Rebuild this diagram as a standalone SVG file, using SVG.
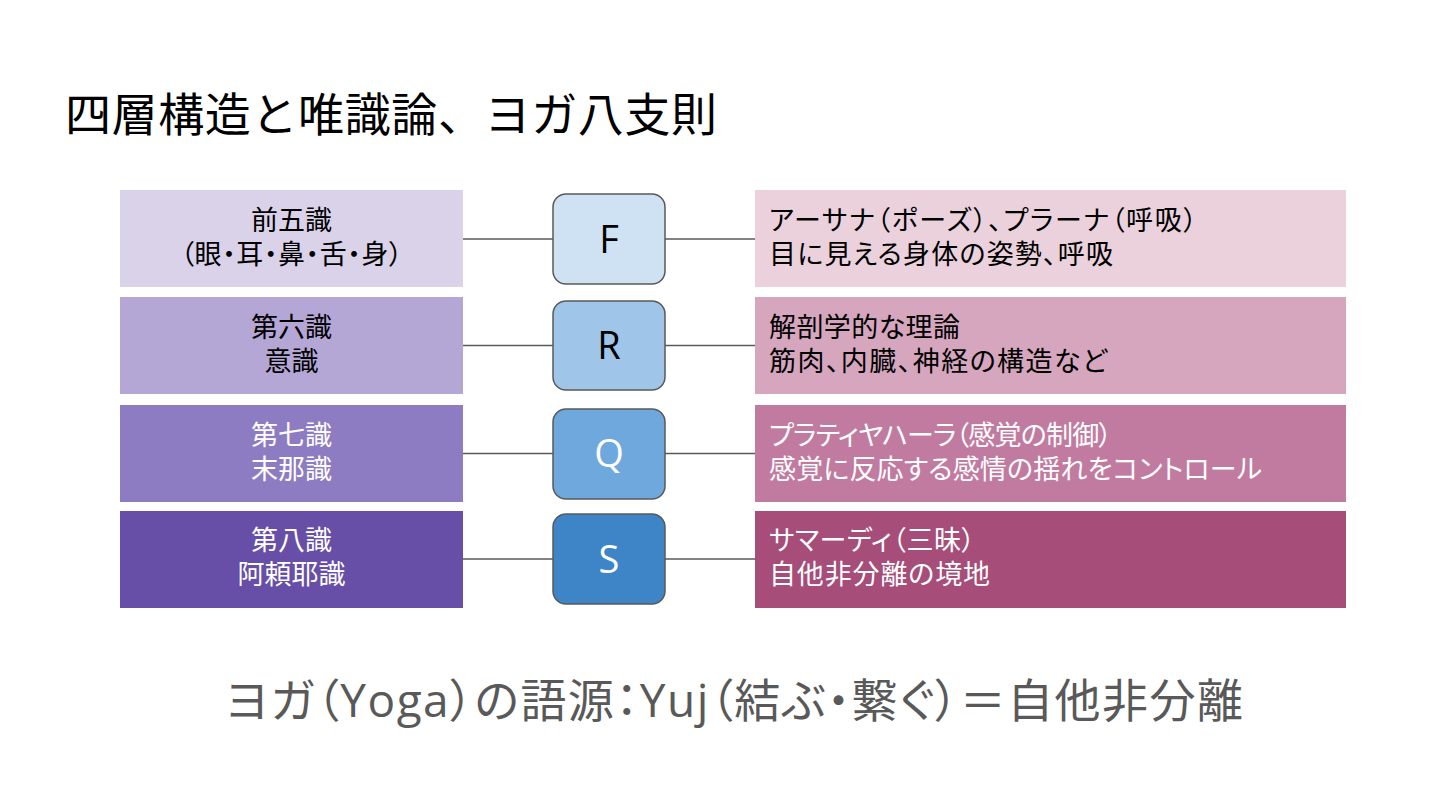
<svg xmlns="http://www.w3.org/2000/svg" width="1440" height="810" viewBox="0 0 1440 810">
<style>
.t{font-family:"Liberation Sans","Noto Sans CJK JP",sans-serif;font-size:27px;fill:#000;font-feature-settings:"palt"}
.w{fill:#fff}
.c{text-anchor:middle}
.mid{stroke:#595959;stroke-width:1.5}
.lt{font-family:"Open Sans","Noto Sans",sans-serif;font-size:38px;text-anchor:middle}
.con{stroke:#595959;stroke-width:1.5;fill:none}
</style>
<rect width="1440" height="810" fill="#fff"/>
<text x="65" y="131" font-family="Noto Sans CJK JP, sans-serif" font-size="46" fill="#000" textLength="652">四層構造と唯識論、ヨガ八支則</text>
<g id="connectors">
<path class="con" d="M463 239H553M665 239H755"/>
<path class="con" d="M463 345.5H553M665 345.5H755"/>
<path class="con" d="M463 453.5H553M665 453.5H755"/>
<path class="con" d="M463 559H553M665 559H755"/>
</g>
<g id="left1"><rect x="120" y="190" width="343" height="97" fill="#D9D2E9"/><text class="t c"><tspan x="291.5" y="230">前五識</tspan><tspan x="291.5" y="264" textLength="222">（眼・耳・鼻・舌・身）</tspan></text></g>
<g id="left2"><rect x="120" y="297" width="343" height="97" fill="#B4A7D6"/><text class="t c"><tspan x="291.5" y="337">第六識</tspan><tspan x="291.5" y="371">意識</tspan></text></g>
<g id="left3"><rect x="120" y="405" width="343" height="97" fill="#8E7CC3"/><text class="t c w"><tspan x="291.5" y="445">第七識</tspan><tspan x="291.5" y="479">末那識</tspan></text></g>
<g id="left4"><rect x="120" y="511" width="343" height="97" fill="#674EA7"/><text class="t c w"><tspan x="291.5" y="550">第八識</tspan><tspan x="291.5" y="584">阿頼耶識</tspan></text></g>
<g id="mid1"><rect class="mid" x="553" y="194" width="112" height="90" rx="13" fill="#CFE2F3"/><text class="lt" x="609" y="253" fill="#000">F</text></g>
<g id="mid2"><rect class="mid" x="553" y="301" width="112" height="89" rx="13" fill="#9FC5E8"/><text class="lt" x="609" y="359" fill="#000">R</text></g>
<g id="mid3"><rect class="mid" x="553" y="409" width="112" height="90" rx="13" fill="#6FA8DC"/><text class="lt" x="609" y="467" fill="#fff">Q</text></g>
<g id="mid4"><rect class="mid" x="553" y="514" width="112" height="90" rx="13" fill="#3D85C6"/><text class="lt" x="609" y="573" fill="#fff">S</text></g>
<g id="right1"><rect x="755" y="190" width="591" height="97" fill="#EAD1DC"/><text class="t"><tspan x="769" y="230" textLength="428">アーサナ（ポーズ）、プラーナ（呼吸）</tspan><tspan x="769" y="264" textLength="344">目に見える身体の姿勢、呼吸</tspan></text></g>
<g id="right2"><rect x="755" y="297" width="591" height="97" fill="#D5A6BD"/><text class="t"><tspan x="769" y="337" textLength="191">解剖学的な理論</tspan><tspan x="769" y="371" textLength="338">筋肉、内臓、神経の構造など</tspan></text></g>
<g id="right3"><rect x="755" y="405" width="591" height="97" fill="#C27BA0"/><text class="t w"><tspan x="769" y="445" textLength="343">プラティヤハーラ（感覚の制御）</tspan><tspan x="769" y="479" textLength="493">感覚に反応する感情の揺れをコントロール</tspan></text></g>
<g id="right4"><rect x="755" y="511" width="591" height="97" fill="#A64D79"/><text class="t w"><tspan x="769" y="550" textLength="206">サマーディ（三昧）</tspan><tspan x="769" y="584" textLength="221">自他非分離の境地</tspan></text></g>
<text x="225" y="717" font-family="Open Sans, Noto Sans CJK JP, sans-serif" font-size="46" fill="#595959" style="font-feature-settings:'palt'" textLength="1018">ヨガ（Yoga）の語源：Yuj（結ぶ・繋ぐ）＝自他非分離</text>
</svg>
